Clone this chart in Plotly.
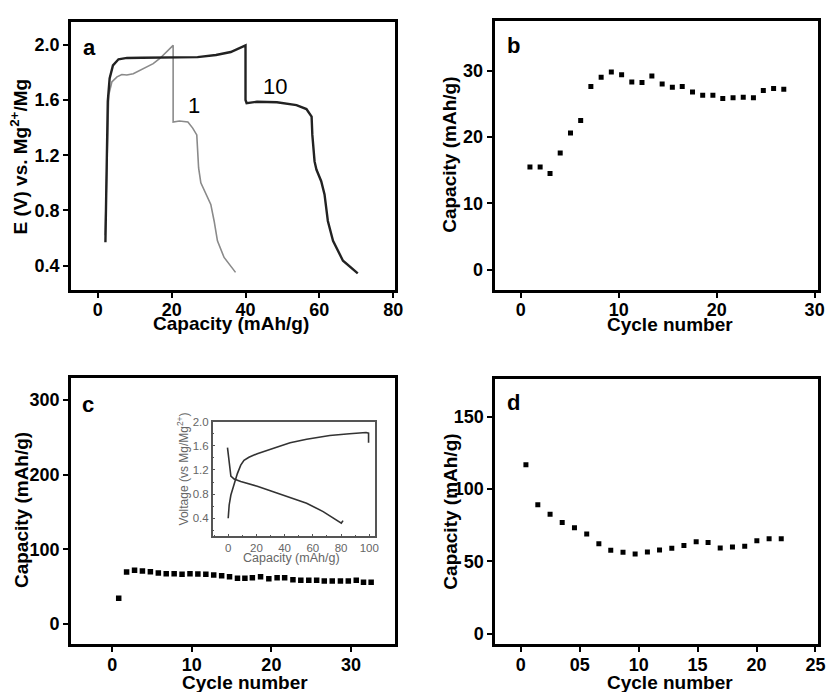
import plotly.graph_objects as go

# ---------------- data ----------------
# panel a: charge/discharge profiles
a_c1_x = [2.0, 2.3, 2.6, 2.95, 3.8, 5.2, 6.5, 7.85, 9.6, 12.3, 15.0, 16.8, 18.9, 20.4,
          20.4, 22.1, 24.4, 25.7, 26.8, 27.3, 27.9, 29.3, 30.6, 31.5, 32.4, 34.2, 37.3]
a_c1_y = [0.62, 0.95, 1.35, 1.635, 1.73, 1.767, 1.784, 1.78, 1.79, 1.827, 1.863, 1.90, 1.96, 1.995,
          1.44, 1.448, 1.44, 1.396, 1.347, 1.108, 1.0, 0.916, 0.844, 0.724, 0.58, 0.46, 0.352]
a_c10_x = [2.06, 2.2, 2.3, 2.5, 2.7, 3.2, 4.1, 5.6, 7.9, 12.0, 20.4, 27.0, 32.0, 36.0, 40.0,
           40.0, 40.3, 43.1, 48.5, 53.8, 56.5, 57.9, 58.1, 58.7, 59.2, 60.5, 61.4, 62.3, 63.7, 66.4, 70.4]
a_c10_y = [0.57, 0.8, 1.11, 1.4, 1.59, 1.755, 1.85, 1.894, 1.904, 1.905, 1.906, 1.91, 1.925, 1.947, 1.995,
           1.60, 1.576, 1.587, 1.583, 1.563, 1.534, 1.479, 1.347, 1.155, 1.096, 1.012, 0.916, 0.724, 0.58, 0.436, 0.345]
a_xticks = [0, 20, 40, 60, 80]
a_yticks = [0.4, 0.8, 1.2, 1.6, 2.0]

# panel b
b_cycle = [0.93, 1.97, 2.98, 4.02, 5.07, 6.11, 7.15, 8.2, 9.24, 10.29, 11.33, 12.37, 13.38,
           14.43, 15.47, 16.48, 17.53, 18.57, 19.61, 20.62, 21.67, 22.71, 23.75, 24.76, 25.81, 26.85]
b_cap = [15.5, 15.5, 14.5, 17.6, 20.6, 22.5, 27.6, 29.0, 29.8, 29.4, 28.3, 28.2, 29.2,
         28.0, 27.5, 27.6, 26.8, 26.3, 26.3, 25.8, 25.9, 26.0, 25.9, 27.0, 27.3, 27.2]
b_xticks = [0, 10, 20, 30]
b_yticks = [0, 10, 20, 30]

# panel c
c_cycle = [0.81, 1.80, 2.80, 3.79, 4.79, 5.79, 6.78, 7.78, 8.77, 9.77, 10.76, 11.76, 12.75,
           13.75, 14.74, 15.74, 16.67, 17.61, 18.64, 19.68, 20.72, 21.67, 22.71, 23.70, 24.70,
           25.69, 26.65, 27.65, 28.68, 29.67, 30.67, 31.58, 32.54]
c_cap = [34.8, 69.7, 72.0, 71.1, 70.1, 68.4, 67.5, 67.5, 66.7, 67.5, 67.1, 66.7, 65.7,
         64.8, 63.5, 61.4, 61.4, 62.2, 63.5, 60.8, 62.2, 62.2, 59.5, 58.7, 58.7,
         58.7, 57.8, 57.8, 57.8, 57.8, 58.7, 56.0, 56.0]
c_xticks = [0, 10, 20, 30]
c_yticks = [0, 100, 200, 300]

# inset of panel c
in_ch_x = [0, 0.7, 1.9, 4.2, 6.5, 8.9, 11.2, 14.7, 20.6, 32.2, 43.9, 55.6, 72, 86, 97.7, 99.5, 99.5]
in_ch_y = [0.40, 0.62, 0.785, 0.975, 1.14, 1.28, 1.36, 1.41, 1.47, 1.56, 1.65, 1.71, 1.77, 1.80, 1.82, 1.81, 1.65]
in_dis_x = [-0.5, 0.7, 1.9, 4.2, 8.9, 20.6, 32.2, 43.9, 55.6, 67.3, 76.7, 80.2, 81.4]
in_dis_y = [1.57, 1.36, 1.10, 1.05, 1.01, 0.93, 0.84, 0.74, 0.65, 0.51, 0.37, 0.32, 0.36]
in_xticks = [0, 20, 40, 60, 80, 100]
in_yticks = [0.4, 0.8, 1.2, 1.6, 2.0]

# panel d
d_cycle = [0.43, 1.44, 2.48, 3.51, 4.55, 5.59, 6.62, 7.63, 8.67, 9.70, 10.74, 11.77, 12.81,
           13.84, 14.88, 15.89, 16.92, 17.96, 19.0, 20.03, 21.07, 22.1]
d_cap = [116.9, 89.3, 82.7, 77.0, 73.3, 69.0, 62.3, 57.8, 56.4, 55.2, 56.6, 58.0, 59.1,
         61.0, 63.7, 63.2, 59.4, 60.0, 60.5, 64.4, 65.8, 65.8]
d_xticks = [0, 5, 10, 15, 20, 25]
d_xticktext = ["0", "05", "10", "15", "20", "25"]
d_yticks = [0, 50, 100, 150]

# ---------------- layout helpers ----------------
W, H = 833, 692
FONT = "Liberation Sans, Arial, Helvetica, sans-serif"


def px(x):
    return x / W


def py(y):
    return 1 - y / H


def main_axis(domain, rng, tickvals, anchor, ticktext=None, fmt=None, standoff=0):
    d = dict(domain=domain, range=rng, tickvals=tickvals, anchor=anchor,
             showgrid=False, zeroline=False,
             showline=True, linecolor="black", linewidth=3, mirror=True,
             ticks="outside", ticklen=5, tickwidth=1.5, tickcolor="black",
             ticklabelstandoff=standoff,
             tickfont=dict(family=FONT, size=18, color="black", weight="bold"))
    if ticktext is not None:
        d["ticktext"] = ticktext
    if fmt is not None:
        d["tickformat"] = fmt
    return d


fig = go.Figure()

# panel a
fig.add_trace(go.Scatter(x=a_c1_x, y=a_c1_y, mode="lines", line=dict(color="#8a8a8a", width=1.6),
                         xaxis="x", yaxis="y", showlegend=False))
fig.add_trace(go.Scatter(x=a_c10_x, y=a_c10_y, mode="lines", line=dict(color="#222222", width=2.4),
                         xaxis="x", yaxis="y", showlegend=False))
# panel b
fig.add_trace(go.Scatter(x=b_cycle, y=b_cap, mode="markers",
                         marker=dict(symbol="square", size=5, color="black"),
                         xaxis="x2", yaxis="y2", showlegend=False))
# panel c
fig.add_trace(go.Scatter(x=c_cycle, y=c_cap, mode="markers",
                         marker=dict(symbol="square", size=5.5, color="black"),
                         xaxis="x3", yaxis="y3", showlegend=False))
# panel d
fig.add_trace(go.Scatter(x=d_cycle, y=d_cap, mode="markers",
                         marker=dict(symbol="square", size=5, color="black"),
                         xaxis="x4", yaxis="y4", showlegend=False))
# inset
fig.add_trace(go.Scatter(x=in_ch_x, y=in_ch_y, mode="lines", line=dict(color="#333333", width=1.6),
                         xaxis="x5", yaxis="y5", showlegend=False))
fig.add_trace(go.Scatter(x=in_dis_x, y=in_dis_y, mode="lines", line=dict(color="#333333", width=1.6),
                         xaxis="x5", yaxis="y5", showlegend=False))

inset_tickfont = dict(family=FONT, size=11.5, color="#666666")

fig.update_layout(
    width=W, height=H, margin=dict(l=0, r=0, t=0, b=0),
    paper_bgcolor="white", plot_bgcolor="white",
    xaxis=main_axis([px(72), px(399)], [-7.2, 80.4], a_xticks, "y", standoff=-3),
    yaxis=main_axis([py(286), py(16)], [0.228, 2.165], a_yticks, "x", fmt=".1f"),
    xaxis2=main_axis([px(500), px(827)], [-2.68, 30.35], b_xticks, "y2", standoff=-3),
    yaxis2=main_axis([py(286), py(15)], [-2.97, 37.5], b_yticks, "x2"),
    xaxis3=main_axis([px(72), px(399)], [-5.16, 35.5], c_xticks, "y3", standoff=-3),
    yaxis3=main_axis([py(644), py(375)], [-27.2, 330], c_yticks, "x3"),
    xaxis4=main_axis([px(500.7), px(826.7)], [-2.17, 25.2], d_xticks, "y4", ticktext=d_xticktext, standoff=-3),
    yaxis4=main_axis([py(644), py(376.7)], [-7.36, 175.9], d_yticks, "x4"),
    xaxis5=dict(domain=[px(215), px(379)], range=[-11, 104], tickvals=in_xticks,
                anchor="y5", showgrid=False, zeroline=False, showline=True,
                linecolor="#555555", linewidth=1.5, mirror=True,
                ticks="inside", ticklen=3, tickcolor="#555555",
                minor=dict(ticks="inside", ticklen=2, dtick=10, tickcolor="#555555"),
                tickfont=inset_tickfont),
    yaxis5=dict(domain=[py(535), py(419.3)], range=[0.10, 2.0], tickvals=in_yticks,
                tickformat=".1f", anchor="x5", showgrid=False, zeroline=False, showline=True,
                linecolor="#555555", linewidth=1.5, mirror=True,
                ticks="inside", ticklen=3, tickcolor="#555555",
                minor=dict(ticks="inside", ticklen=2, dtick=0.2, tickcolor="#555555"),
                tickfont=inset_tickfont),
)

title_font = dict(family=FONT, size=19, color="black", weight="bold")
letter_font = dict(family=FONT, size=22, color="black", weight="bold")
annotations = [
    # axis titles
    dict(text="Capacity (mAh/g)", x=px(234), y=py(320), font=title_font),
    dict(text="E (V) vs. Mg<sup>2+</sup>/Mg", x=px(19), y=py(152), font=title_font, textangle=-90),
    dict(text="Cycle number", x=px(677), y=py(321.7), font=title_font),
    dict(text="Capacity (mAh/g)", x=px(455), y=py(150), font=title_font, textangle=-90),
    dict(text="Cycle number", x=px(248), y=py(682), font=title_font),
    dict(text="Capacity (mAh/g)", x=px(21.7), y=py(508), font=title_font, textangle=-90),
    dict(text="Cycle number", x=px(677), y=py(682), font=title_font),
    dict(text="Capacity (mAh/g)", x=px(455), y=py(510), font=title_font, textangle=-90),
    # inset titles
    dict(text="Capacity (mAh/g)", x=px(295), y=py(556.7), font=dict(family=FONT, size=12.5, color="#666666")),
    dict(text="Voltage (vs Mg/Mg<sup>2+</sup>)", x=px(185), y=py(467.5),
         font=dict(family=FONT, size=12, color="#666666"), textangle=-90),
    # panel letters
    dict(text="a", x=px(90), y=py(42), font=letter_font),
    dict(text="b", x=px(519), y=py(40), font=letter_font),
    dict(text="c", x=px(89.3), y=py(401.7), font=letter_font),
    dict(text="d", x=px(519), y=py(400), font=letter_font),
]
for an in annotations:
    an.update(xref="paper", yref="paper", showarrow=False, xanchor="center", yanchor="middle")
    fig.add_annotation(**an)

# curve labels in panel a
fig.add_annotation(text="1", x=26, y=1.563, xref="x", yref="y", showarrow=False,
                   font=dict(family=FONT, size=22, color="black"))
fig.add_annotation(text="10", x=48, y=1.695, xref="x", yref="y", showarrow=False,
                   font=dict(family=FONT, size=22, color="black"))

fig.write_html("out.html", config={"displayModeBar": False},
               post_script="document.body.style.margin='0px';document.body.style.overflow='hidden';")
